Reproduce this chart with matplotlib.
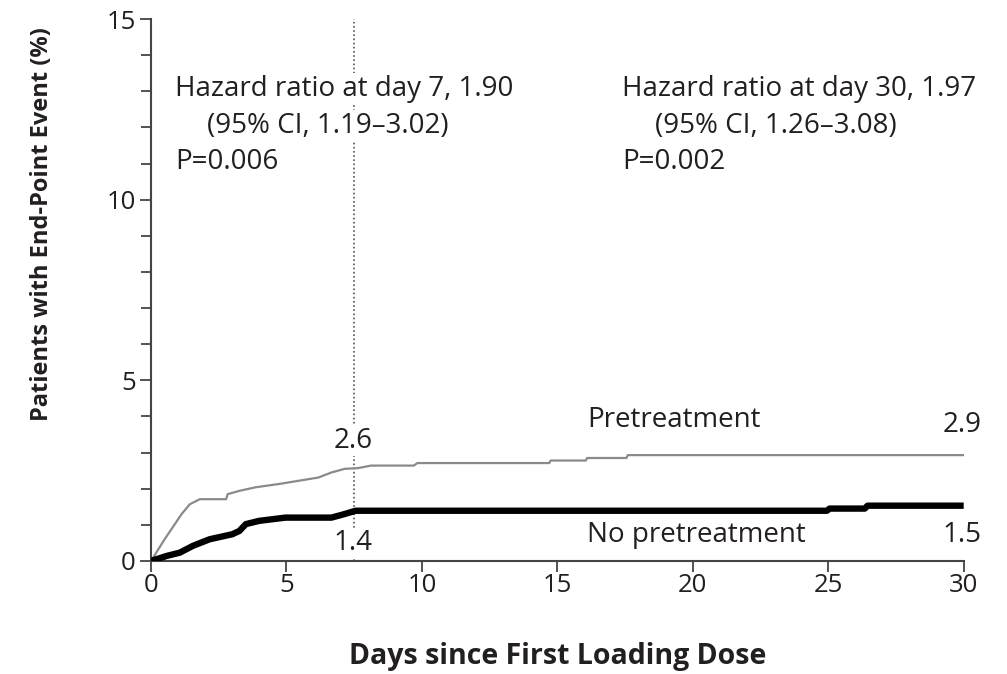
import matplotlib
matplotlib.use("Agg")
import matplotlib.pyplot as plt
from matplotlib.ticker import MultipleLocator

plt.rcParams['font.family'] = ['Open Sans', 'DejaVu Sans']

# cumulative event curves
pre_days = [0, 0.5, 1.13, 1.43, 1.8, 2.77, 2.83, 3.26, 3.86, 4.72, 5.45, 6.18, 6.66,
            7.15, 7.64, 8.12, 9.7, 9.83, 14.7, 14.75, 16.05, 16.1, 17.55, 17.6, 30]
pre_pct = [0, 0.6, 1.3, 1.57, 1.71, 1.71, 1.85, 1.94, 2.04, 2.13, 2.22, 2.31, 2.45,
           2.55, 2.57, 2.64, 2.64, 2.71, 2.71, 2.78, 2.78, 2.85, 2.85, 2.93, 2.93]

nopre_days = [0, 0.58, 1.06, 1.55, 2.16, 3.0, 3.26, 3.5, 3.99, 4.96, 6.66, 7.15, 7.55,
              24.95, 25.05, 26.35, 26.45, 30]
nopre_pct = [0, 0.14, 0.23, 0.42, 0.6, 0.74, 0.83, 1.02, 1.11, 1.2, 1.2, 1.3, 1.39,
             1.39, 1.45, 1.45, 1.53, 1.53]

landmark_day = 7.5
label_day7 = ["2.6", "1.4"]
label_day30 = ["2.9", "1.5"]

txt = '#231f20'
fig = plt.figure(figsize=(10.07, 6.74), dpi=100)
ax = fig.add_axes([0.15, 0.1677, 0.807, 0.8041])

ax.axvline(landmark_day, color='#555555', linestyle=(0, (1, 1.5)), linewidth=1.2, zorder=1)
ax.plot(pre_days, pre_pct, color='#8a8a8a', linewidth=1.6, zorder=3)
ax.plot(nopre_days, nopre_pct, color='black', linewidth=4.6, zorder=3,
        solid_capstyle='butt')

ax.set_xlim(0, 30)
ax.set_ylim(0, 15)
ax.xaxis.set_major_locator(MultipleLocator(5))
ax.yaxis.set_major_locator(MultipleLocator(5))
ax.yaxis.set_minor_locator(MultipleLocator(1))
for s in ['top', 'right']:
    ax.spines[s].set_visible(False)
for s in ['left', 'bottom']:
    ax.spines[s].set_linewidth(1.5)
    ax.spines[s].set_color('#444444')
ax.tick_params(which='both', direction='out', length=8, width=1.3, color='#444444',
               labelsize=18.5, labelcolor=txt)
ax.tick_params(axis='y', which='minor', length=7)
ax.tick_params(axis='y', pad=3)
ax.tick_params(axis='x', pad=1)

ax.set_xlabel("Days since First Loading Dose", fontsize=20.5, fontweight='bold', color=txt)
ax.xaxis.set_label_coords(0.5, -0.15)
ax.set_ylabel("Patients with End-Point Event (%)", fontsize=17, fontweight='bold', color=txt)
ax.yaxis.set_label_coords(-0.12, 0.622)

box = dict(facecolor='white', edgecolor='none', pad=1)
fs = 20
ax.text(0.9, 13.07, "Hazard ratio at day 7, 1.90", fontsize=fs, color=txt, va='center', bbox=box)
ax.text(2.05, 12.05, "(95% CI, 1.19\u20133.02)", fontsize=fs, color=txt, va='center', bbox=box)
ax.text(0.9, 11.03, "P=0.006", fontsize=fs, color=txt, va='center')
ax.text(17.4, 13.07, "Hazard ratio at day 30, 1.97", fontsize=fs, color=txt, va='center')
ax.text(18.6, 12.05, "(95% CI, 1.26\u20133.08)", fontsize=fs, color=txt, va='center')
ax.text(17.4, 11.03, "P=0.002", fontsize=fs, color=txt, va='center')

ax.text(landmark_day - 0.05, 3.33, label_day7[0], fontsize=fs, color=txt, ha='center', va='center', bbox=box)
ax.text(landmark_day - 0.05, 0.5, label_day7[1], fontsize=fs, color=txt, ha='center', va='center', bbox=box)
ax.text(30.65, 3.77, label_day30[0], fontsize=fs, color=txt, ha='right', va='center', clip_on=False)
ax.text(30.65, 0.72, label_day30[1], fontsize=fs, color=txt, ha='right', va='center', clip_on=False)
ax.text(16.1, 3.89, "Pretreatment", fontsize=fs, color=txt, va='center')
ax.text(16.1, 0.72, "No pretreatment", fontsize=fs, color=txt, va='center')

fig.savefig("out.png", dpi=100)
